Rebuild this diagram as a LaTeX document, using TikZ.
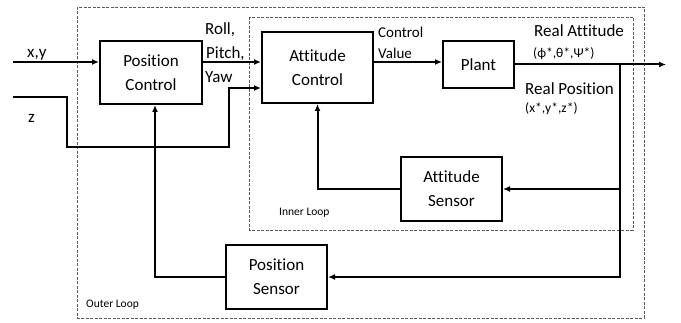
\documentclass[tikz,border=0pt]{standalone}
\usepackage{fontspec}
\setmainfont{Carlito}[Ligatures=NoCommon]
\usetikzlibrary{arrows.meta}

\tikzset{
  block/.style={draw, line width=2pt, inner sep=0pt, align=center, font=\fontsize{17}{24}\selectfont},
  sig/.style={line width=2pt},
  loopbox/.style={draw=gray!70!black, line width=0.9pt, dash pattern=on 3pt off 1.5pt},
  lbl/.style={anchor=base west, inner sep=0pt, font=\fontsize{17}{20}\selectfont},
  midlbl/.style={anchor=base west, inner sep=0pt, font=\fontsize{15}{18}\selectfont},
  smalllbl/.style={anchor=base west, inner sep=0pt, font=\fontsize{13.5}{16}\selectfont},
  looplbl/.style={anchor=base west, inner sep=0pt, font=\fontsize{11.5}{14}\selectfont}
}

\begin{document}
\begin{tikzpicture}[x=1pt,y=-1pt,>={Latex[length=7pt,width=6pt]}, line join=miter]
	\useasboundingbox (0,0) rectangle (681,323);
	
	% loops
	\draw[loopbox] (77,7) rectangle (644,318);
	\draw[loopbox] (249,17) rectangle (633,230);
	\node[looplbl] (inner) at (279,216) {Inner Loop};
	\node[looplbl] (outer) at (86,308) {Outer Loop};
	
	% blocks
	\node[block, minimum width=102, minimum height=63] (pc) at (151,72.5) {Position\\Control};
	\node[block, minimum width=111, minimum height=71] (ac) at (317.5,67.5) {Attitude\\Control};
	\node[block, minimum width=71, minimum height=47] (pl) at (478.5,64.5) {Plant};
	\node[block, minimum width=101, minimum height=64] (as) at (451.5,189) {Attitude\\Sensor};
	\node[block, minimum width=101, minimum height=64] (ps) at (276.5,277) {Position\\Sensor};
	
	% inputs
	\coordinate (xyin) at (13,62);
	\coordinate (zin) at (13,97);
	\node[lbl] (xy) at (27,58) {x,y};
	\node[lbl] (z) at (28,123) {z};
	\draw[sig,->] (xyin) -- (xyin -| pc.west);
	\draw[sig,->] (zin) -- (67,97) -- (67,147) -- (229,147) -- (229,88) -- (ac.west |- 0,88);
	
	% forward path
	\draw[sig,->] (pc.east |- xyin) -- (ac.west |- xyin);
	\node[lbl] (roll) at (205,35) {Roll,};
	\node[lbl] (pitch) at (206,59) {Pitch,};
	\node[lbl] (yaw) at (205,83) {Yaw};
	\draw[sig,->] (ac.east |- xyin) -- (pl.west |- xyin);
	\node[midlbl] (cv1) at (378,38) {Control};
	\node[midlbl] (cv2) at (378,59) {Value};
	\coordinate (br) at ([xshift=105]pl.east);
	\draw[sig,->] (pl.east) -- ++(151,0);
	\node[lbl] (ra) at (534,37) {Real Attitude};
	\node[smalllbl] (rav) at (533,58) {(ϕ*,θ*,Ψ*)};
	\node[lbl] (rp) at (525,95) {Real Position};
	\node[smalllbl] (rpv) at (525,113) {(x*,y*,z*)};
	
	% feedback
	\draw[sig,->] (br) |- (ps.east);
	\draw[sig,->] (br |- as.east) -- (as.east);
	\draw[sig,->] (as.west) -| (ac.south);
	\draw[sig,->] (ps.west) -| ([xshift=4]pc.south);
\end{tikzpicture}
\end{document}
